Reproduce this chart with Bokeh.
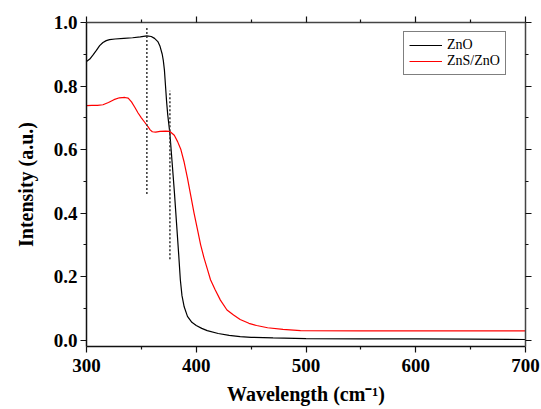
from bokeh.plotting import figure
from bokeh.models import (LinearAxis, FixedTicker, PrintfTickFormatter, Range1d,
                          Legend, LegendItem, CustomJSTickFormatter)
from bokeh.embed import file_html
from bokeh.resources import INLINE

# ---- data ----
zno_wl = [300, 303, 306, 309, 312, 315, 318, 321, 326, 334, 342, 349, 355, 359, 362,
          365, 367, 369, 370, 371, 372, 373, 374, 375, 376, 378, 380, 382, 384, 385.5,
          387, 389, 392, 396, 400, 405, 410, 420, 430, 440, 450, 470, 500, 550, 600,
          650, 700]
zno_int = [0.877, 0.885, 0.898, 0.912, 0.927, 0.937, 0.943, 0.946, 0.948, 0.950, 0.952,
           0.955, 0.958, 0.956, 0.950, 0.940, 0.925, 0.900, 0.880, 0.850, 0.800, 0.750,
           0.710, 0.680, 0.650, 0.560, 0.470, 0.370, 0.270, 0.190, 0.140, 0.105, 0.075,
           0.056, 0.046, 0.037, 0.030, 0.021, 0.015, 0.011, 0.009, 0.007, 0.005, 0.004,
           0.004, 0.003, 0.002]

zns_wl = [300, 305, 310, 315, 320, 325, 330, 335, 338, 341, 344, 347, 350, 353, 356,
          358, 360, 363, 367, 372, 376, 380, 383, 386, 389, 392, 395, 398, 401, 404,
          407, 410, 413, 417, 422, 428, 434, 440, 448, 455, 465, 479, 495, 550, 600,
          650, 700]
zns_int = [0.738, 0.739, 0.739, 0.741, 0.748, 0.757, 0.763, 0.764, 0.762, 0.750, 0.733,
           0.715, 0.700, 0.686, 0.672, 0.662, 0.656, 0.655, 0.657, 0.658, 0.657, 0.645,
           0.625, 0.600, 0.560, 0.510, 0.455, 0.400, 0.350, 0.300, 0.260, 0.225, 0.190,
           0.160, 0.126, 0.095, 0.079, 0.065, 0.053, 0.046, 0.039, 0.034, 0.030, 0.029,
           0.029, 0.029, 0.029]

# dotted guide lines
guide_x = [355, 376]
guide_y0 = [0.46, 0.255]
guide_y1 = [0.985, 0.785]

x_ticks = [300, 400, 500, 600, 700]
x_minor = [350, 450, 550, 650]
y_ticks = [0.0, 0.2, 0.4, 0.6, 0.8, 1.0]
y_minor = [0.1, 0.3, 0.5, 0.7, 0.9]

FONT = "Liberation Serif"

p = figure(width=541, height=409, output_backend="svg", toolbar_location=None,
           x_range=Range1d(300, 700), y_range=Range1d(-0.02, 1.0),
           x_axis_location=None, y_axis_location=None,
           min_border_left=86, min_border_right=16, min_border_top=22,
           min_border_bottom=63)
p.xgrid.visible = False
p.ygrid.visible = False
p.outline_line_color = None
p.background_fill_color = "white"
p.border_fill_color = "white"

def style(ax, labels=True):
    ax.axis_line_color = "#111111"
    ax.axis_line_width = 1.5
    ax.major_tick_line_color = "#111111"
    ax.minor_tick_line_color = "#111111"
    ax.major_tick_line_width = 1.2
    ax.minor_tick_line_width = 1.2
    ax.major_tick_in = 0
    ax.major_tick_out = 6
    ax.minor_tick_in = 0
    ax.minor_tick_out = 3
    ax.major_label_text_font = FONT
    ax.major_label_text_font_style = "bold"
    ax.major_label_text_font_size = "19px"
    ax.major_label_text_color = "black"
    ax.axis_label_text_font = FONT
    ax.axis_label_text_font_style = "bold"
    ax.axis_label_text_font_size = "20px"
    ax.axis_label_text_color = "black"
    if not labels:
        ax.formatter = CustomJSTickFormatter(code="return ''")
        ax.major_label_text_font_size = "0px"
        ax.major_label_standoff = 0

xb = LinearAxis(ticker=FixedTicker(ticks=x_ticks, minor_ticks=x_minor),
                axis_label="Wavelength (cm⁻¹)")
style(xb)
xb.major_label_standoff = 6
xb.axis_label_standoff = 8
p.add_layout(xb, "below")

yl = LinearAxis(ticker=FixedTicker(ticks=y_ticks, minor_ticks=y_minor),
                axis_label="Intensity (a.u.)",
                formatter=PrintfTickFormatter(format="%.1f"))
style(yl)
yl.major_label_standoff = 3
yl.axis_label_standoff = 14
p.add_layout(yl, "left")

xt = LinearAxis(ticker=FixedTicker(ticks=x_ticks, minor_ticks=x_minor))
style(xt, labels=False)
xt.axis_line_color = "#444444"
p.add_layout(xt, "above")

yr = LinearAxis(ticker=FixedTicker(ticks=y_ticks, minor_ticks=y_minor))
style(yr, labels=False)
yr.axis_line_color = "#444444"
p.add_layout(yr, "right")

r1 = p.line(zno_wl, zno_int, line_color="black", line_width=1.2)
r2 = p.line(zns_wl, zns_int, line_color="#ff0000", line_width=1.2)
p.segment(x0=guide_x, y0=guide_y0, x1=guide_x, y1=guide_y1,
          line_color="#333333", line_width=1.5, line_dash="2 2")

legend = Legend(items=[LegendItem(label="ZnO", renderers=[r1]),
                       LegendItem(label="ZnS/ZnO", renderers=[r2])],
                location=(317, 271))
legend.label_text_font = FONT
legend.label_text_font_size = "14px"
legend.label_text_color = "black"
legend.glyph_width = 33
legend.glyph_height = 14
legend.label_height = 14
legend.label_standoff = 5
legend.spacing = 0
legend.padding = 5
legend.margin = 0
legend.border_line_color = "black"
legend.border_line_width = 1
legend.background_fill_color = "white"
legend.background_fill_alpha = 1
p.add_layout(legend, "center")

open("out.html", "w").write(file_html(p, INLINE))
